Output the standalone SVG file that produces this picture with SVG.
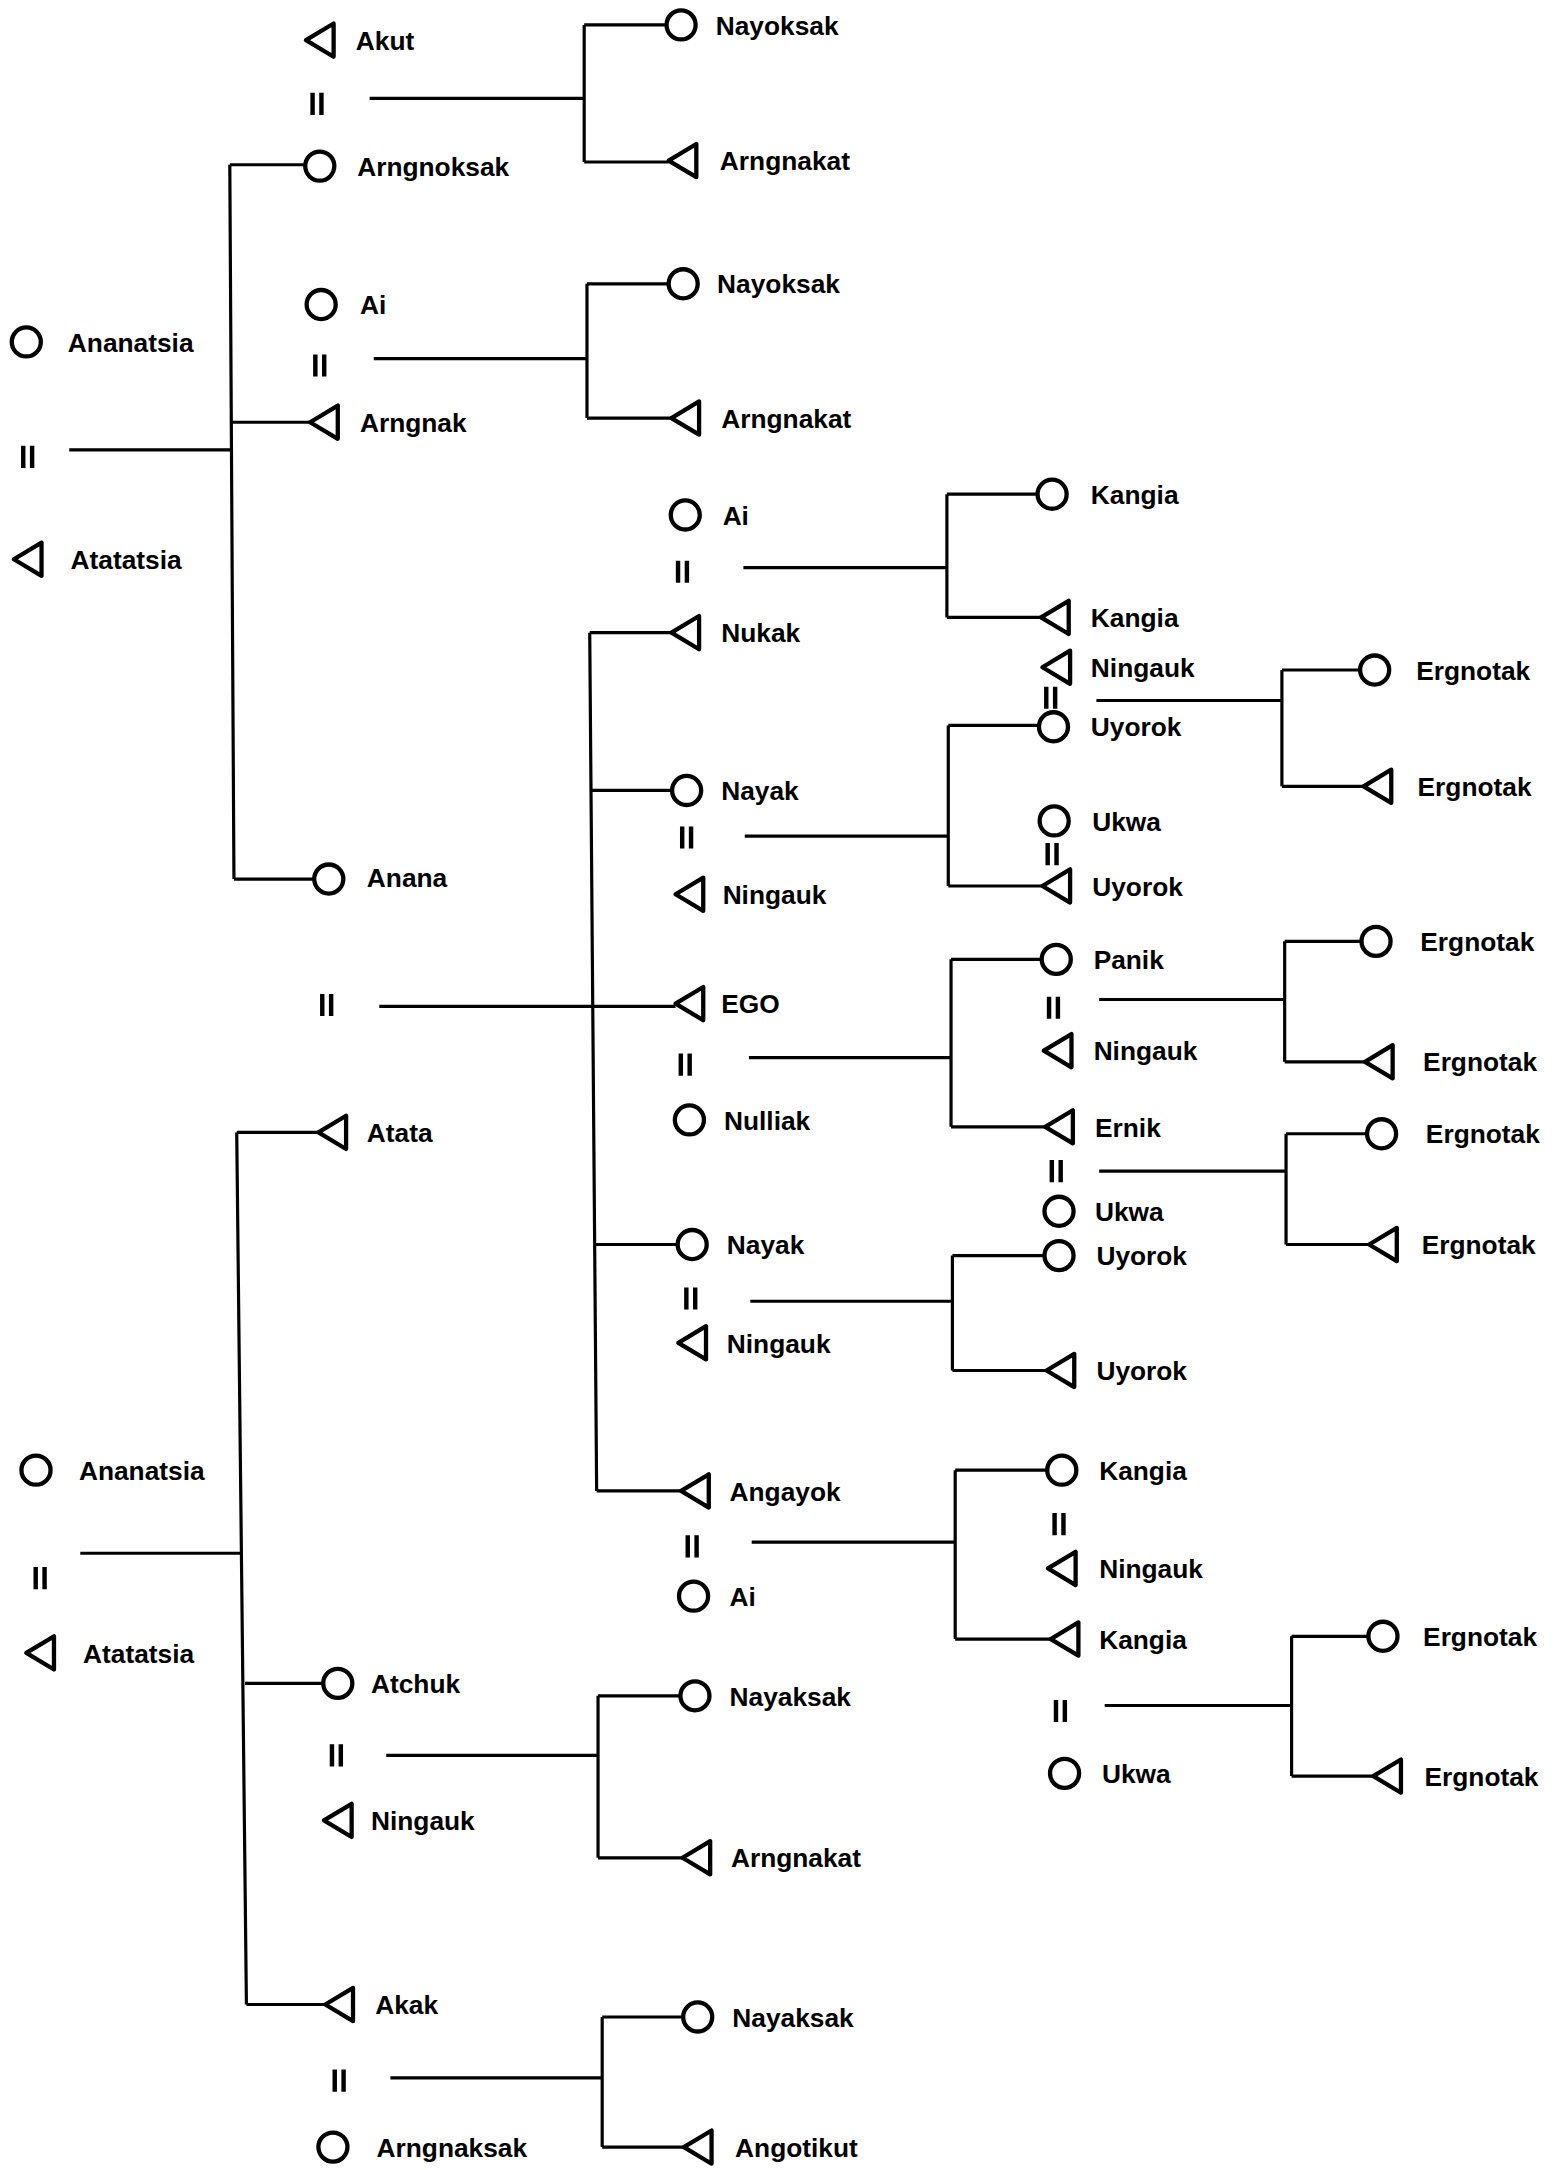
<svg xmlns="http://www.w3.org/2000/svg" xmlns:xlink="http://www.w3.org/1999/xlink" width="1556" height="2170" viewBox="0 0 1556 2170">
<style>
.sym{fill:none;stroke:#000;stroke-width:3.1;stroke-linejoin:round}
.eqs{fill:none;stroke:#000;stroke-width:3.2}
.ln{fill:none;stroke:#000;stroke-width:2.3}
text{font-family:"Liberation Sans",Arial,sans-serif;font-weight:bold;font-size:19px;fill:#000}
</style>
<defs>
<path id="m" class="sym" d="M-10,0 L10,-12 L10,12 Z"/>
<circle id="f" class="sym" r="10.5"/>
<path id="eq" class="eqs" d="M-3.2,-8 V8 M3.2,-8 V8"/>
</defs>
<rect width="1556" height="2170" fill="#fff"/>
<g transform="scale(1.38434)">
<g id="connectors">
<path class="ln" d="M267,71 H422 M422,18 V117 M422,18 H482 M422,117 H483"/>
<path class="ln" d="M270,259 H424 M424,205 V302 M424,205 H483 M424,302 H485"/>
<path class="ln" d="M50,325 H167 M166,119 L169,635 M166,119 H221 M167,305 H224 M169,635 H227"/>
<path class="ln" d="M274,727 H488 M426,457 L431,1077 M426,457 H485 M428,571 H486 M430,899 H490 M431,1077 H492"/>
<path class="ln" d="M537,410 H684 M684,357 V446 M684,357 H750 M684,446 H752"/>
<path class="ln" d="M538,604 H685 M685,524 V640 M685,524 H751 M685,640 H753"/>
<path class="ln" d="M792,506 H926 M926,484 V568 M926,484 H983 M926,568 H985"/>
<path class="ln" d="M541,764 H687 M687,693 V814 M687,693 H753 M687,814 H755"/>
<path class="ln" d="M794,722 H928 M928,680 V767 M928,680 H984 M928,767 H986"/>
<path class="ln" d="M794,846 H929 M929,819 V899 M929,819 H988 M929,899 H989"/>
<path class="ln" d="M542,940 H688 M688,907 V990 M688,907 H755 M688,990 H756"/>
<path class="ln" d="M543,1114 H690 M690,1062 V1184 M690,1062 H757 M690,1184 H759"/>
<path class="ln" d="M798,1232 H933 M933,1182 V1283 M933,1182 H989 M933,1283 H992"/>
<path class="ln" d="M58,1122 H174 M171,818 L178,1448 M171,818 H230 M177,1216 H234 M178,1448 H235"/>
<path class="ln" d="M279,1268 H432 M432,1225 V1342 M432,1225 H492 M432,1342 H493"/>
<path class="ln" d="M282,1501 H435 M435,1457 V1551 M435,1457 H494 M435,1551 H494"/>
</g>
<g id="marriages">
<use xlink:href="#eq" x="229" y="75"/>
<use xlink:href="#eq" x="231" y="264"/>
<use xlink:href="#eq" x="20" y="330"/>
<use xlink:href="#eq" x="236" y="726"/>
<use xlink:href="#eq" x="493" y="413"/>
<use xlink:href="#eq" x="759" y="504"/>
<use xlink:href="#eq" x="496" y="605"/>
<use xlink:href="#eq" x="760" y="617"/>
<use xlink:href="#eq" x="761" y="728"/>
<use xlink:href="#eq" x="495" y="769"/>
<use xlink:href="#eq" x="763" y="846"/>
<use xlink:href="#eq" x="499" y="938"/>
<use xlink:href="#eq" x="500" y="1117"/>
<use xlink:href="#eq" x="765" y="1101"/>
<use xlink:href="#eq" x="766" y="1236"/>
<use xlink:href="#eq" x="29" y="1140"/>
<use xlink:href="#eq" x="243" y="1268"/>
<use xlink:href="#eq" x="245" y="1503"/>
</g>
<g id="n1"><use xlink:href="#m" x="231" y="29"/><text x="257" y="36">Akut</text></g>
<g id="n2"><use xlink:href="#f" x="492" y="18"/><text x="517" y="25">Nayoksak</text></g>
<g id="n3"><use xlink:href="#m" x="493" y="116"/><text x="520" y="123">Arngnakat</text></g>
<g id="n4"><use xlink:href="#f" x="231" y="120"/><text x="258" y="127">Arngnoksak</text></g>
<g id="n5"><use xlink:href="#f" x="232" y="220"/><text x="260" y="227">Ai</text></g>
<g id="n6"><use xlink:href="#f" x="493.5" y="205"/><text x="518" y="212">Nayoksak</text></g>
<g id="n7"><use xlink:href="#m" x="495" y="302"/><text x="521" y="309">Arngnakat</text></g>
<g id="n8"><use xlink:href="#m" x="234" y="305"/><text x="260" y="312">Arngnak</text></g>
<g id="n9"><use xlink:href="#f" x="19" y="247"/><text x="49" y="254">Ananatsia</text></g>
<g id="n10"><use xlink:href="#m" x="20" y="404"/><text x="51" y="411">Atatatsia</text></g>
<g id="n11"><use xlink:href="#f" x="237.5" y="635"/><text x="265" y="641">Anana</text></g>
<g id="n12"><use xlink:href="#f" x="495" y="372"/><text x="522" y="379">Ai</text></g>
<g id="n13"><use xlink:href="#f" x="760" y="357"/><text x="788" y="364">Kangia</text></g>
<g id="n14"><use xlink:href="#m" x="762" y="446"/><text x="788" y="453">Kangia</text></g>
<g id="n15"><use xlink:href="#m" x="495" y="457"/><text x="521" y="464">Nukak</text></g>
<g id="n16"><use xlink:href="#m" x="763" y="482"/><text x="788" y="489">Ningauk</text></g>
<g id="n17"><use xlink:href="#f" x="993" y="484"/><text x="1023" y="491">Ergnotak</text></g>
<g id="n18"><use xlink:href="#m" x="995" y="568"/><text x="1024" y="575">Ergnotak</text></g>
<g id="n19"><use xlink:href="#f" x="761" y="525"/><text x="788" y="532">Uyorok</text></g>
<g id="n20"><use xlink:href="#f" x="496" y="571"/><text x="521" y="578">Nayak</text></g>
<g id="n21"><use xlink:href="#m" x="498" y="646"/><text x="522" y="653">Ningauk</text></g>
<g id="n22"><use xlink:href="#f" x="761.5" y="593"/><text x="789" y="600">Ukwa</text></g>
<g id="n23"><use xlink:href="#m" x="763" y="640"/><text x="789" y="647">Uyorok</text></g>
<g id="n24"><use xlink:href="#f" x="763" y="693"/><text x="790" y="700">Panik</text></g>
<g id="n25"><use xlink:href="#f" x="994" y="680"/><text x="1026" y="687">Ergnotak</text></g>
<g id="n26"><use xlink:href="#m" x="996" y="767"/><text x="1028" y="774">Ergnotak</text></g>
<g id="n27"><use xlink:href="#m" x="764" y="759"/><text x="790" y="766">Ningauk</text></g>
<g id="n28"><use xlink:href="#m" x="498" y="725"/><text x="521" y="732">EGO</text></g>
<g id="n29"><use xlink:href="#f" x="498" y="809"/><text x="523" y="816">Nulliak</text></g>
<g id="n30"><use xlink:href="#m" x="765" y="814"/><text x="791" y="821">Ernik</text></g>
<g id="n31"><use xlink:href="#f" x="998" y="819"/><text x="1030" y="826">Ergnotak</text></g>
<g id="n32"><use xlink:href="#m" x="999" y="899"/><text x="1027" y="906">Ergnotak</text></g>
<g id="n33"><use xlink:href="#f" x="765" y="875"/><text x="791" y="882">Ukwa</text></g>
<g id="n34"><use xlink:href="#f" x="500" y="899"/><text x="525" y="906">Nayak</text></g>
<g id="n35"><use xlink:href="#f" x="765" y="907"/><text x="792" y="914">Uyorok</text></g>
<g id="n36"><use xlink:href="#m" x="500" y="970"/><text x="525" y="977">Ningauk</text></g>
<g id="n37"><use xlink:href="#m" x="766" y="990"/><text x="792" y="997">Uyorok</text></g>
<g id="n38"><use xlink:href="#m" x="502" y="1077"/><text x="527" y="1084">Angayok</text></g>
<g id="n39"><use xlink:href="#f" x="767" y="1062"/><text x="794" y="1069">Kangia</text></g>
<g id="n40"><use xlink:href="#m" x="767" y="1133"/><text x="794" y="1140">Ningauk</text></g>
<g id="n41"><use xlink:href="#m" x="769" y="1184"/><text x="794" y="1191">Kangia</text></g>
<g id="n42"><use xlink:href="#f" x="501" y="1153"/><text x="527" y="1160">Ai</text></g>
<g id="n43"><use xlink:href="#f" x="999" y="1182"/><text x="1028" y="1189">Ergnotak</text></g>
<g id="n44"><use xlink:href="#m" x="1002" y="1283"/><text x="1029" y="1290">Ergnotak</text></g>
<g id="n45"><use xlink:href="#f" x="769" y="1281"/><text x="796" y="1288">Ukwa</text></g>
<g id="n46"><use xlink:href="#m" x="240" y="818"/><text x="265" y="825">Atata</text></g>
<g id="n47"><use xlink:href="#f" x="26" y="1062"/><text x="57" y="1069">Ananatsia</text></g>
<g id="n48"><use xlink:href="#m" x="29" y="1194"/><text x="60" y="1201">Atatatsia</text></g>
<g id="n49"><use xlink:href="#f" x="244" y="1216"/><text x="268" y="1223">Atchuk</text></g>
<g id="n50"><use xlink:href="#f" x="502" y="1225"/><text x="527" y="1232">Nayaksak</text></g>
<g id="n51"><use xlink:href="#m" x="503" y="1342"/><text x="528" y="1349">Arngnakat</text></g>
<g id="n52"><use xlink:href="#m" x="244" y="1315"/><text x="268" y="1322">Ningauk</text></g>
<g id="n53"><use xlink:href="#m" x="245" y="1448"/><text x="271" y="1455">Akak</text></g>
<g id="n54"><use xlink:href="#f" x="504" y="1457"/><text x="529" y="1464">Nayaksak</text></g>
<g id="n55"><use xlink:href="#m" x="504" y="1551"/><text x="531" y="1558">Angotikut</text></g>
<g id="n56"><use xlink:href="#f" x="240.5" y="1551"/><text x="272" y="1558">Arngnaksak</text></g>
</g>
</svg>
